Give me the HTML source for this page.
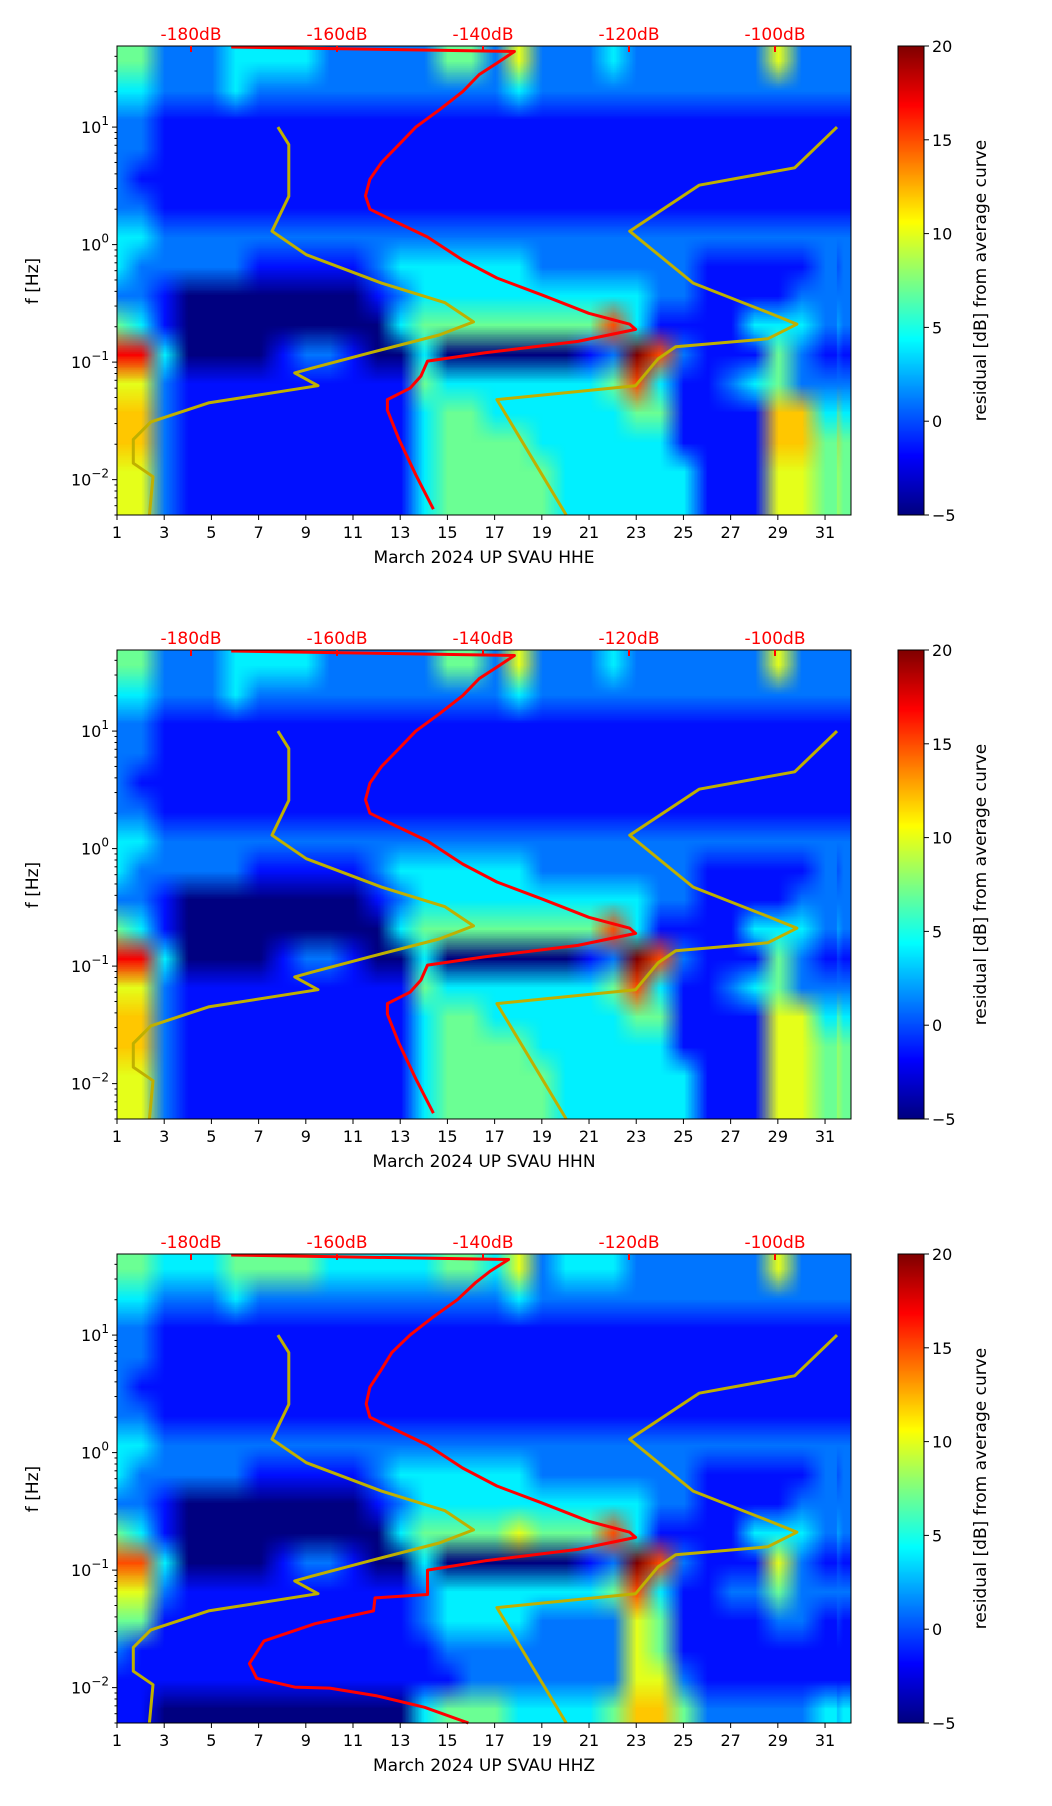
<!DOCTYPE html>
<html><head><meta charset="utf-8">
<style>
body{margin:0;background:#fff;}
#wrap{position:relative;width:1052px;height:1806px;overflow:hidden;background:#fff;font-family:"DejaVu Sans","Liberation Sans",sans-serif;}
canvas{position:absolute;}
svg{position:absolute;left:0;top:0;font-family:"DejaVu Sans","Liberation Sans",sans-serif;}
</style></head>
<body>
<div id="wrap">
<svg id="svg" width="1052" height="1806"></svg>
</div>
<script>
// ---- data ----
const dayTicks = [1,3,5,7,9,11,13,15,17,19,21,23,25,27,29,31];
const dbTicks = [-180,-160,-140,-120,-100];
const cbTicks = [20,15,10,5,0,-5];
const channels = ["HHE","HHN","HHZ"];
// residual level lookup for grid digits (dB)
const levels = [-5,-1.5,1,4,7,10,12,15,17,20];
// residual grid rows (top 50Hz -> bottom 0.005Hz), one char per day 1..31
const gridE = ["4422233332222244252223222222522","3322232222222222232222222222222","2211111111111111111111111111111","2211111111111111111111111111111","2111111111111111111111111111111","2211111111111111111111111111111","3322222222222222222222222222222","3222221111123333332222222111112","2210000000012333333333322111122","4310000000003444444447311113332","8830000122100300000012972111421","5521111111111433333334731123422","6621111111111344333333441111663","6621111111111344443333331111664","5521111111111344444333333111554","5521111111111344444333333111554"];
const gridN = ["4422233332222244252223222222522","3322232222222222232222222222222","2211111111111111111111111111111","2211111111111111111111111111111","2111111111111111111111111111111","2211111111111111111111111111111","3322222222222222222222222222222","3222221111123333332222222111112","2210000000012333333333322111122","4310000000003444444447311113332","8830000122100300000012972111421","5521111111111433333334731123422","6621111111111344333333441111553","6621111111111344443333331111554","5521111111111344444333333111554","5521111111111344444333333111554"];
const gridZ = ["4433344443333344352333222222522","3322232222222222232222222222222","2211111111111111111111111111111","2211111111111111111111111111111","2111111111111111111111111111111","2211111111111111111111111111111","3322222222222222222222222222222","3222221111123333332222222111112","2210000000012333333333322111122","4310000000003444454447311113332","7730000122100300000012972111521","5521111111111233333334731122422","4411111111111233332222541111221","2111111111111122222222541111111","1111111111111112222222552111111","1100000000000344433334664222223"];
const grids = [gridE, gridN, gridZ];
// average PSD curve (Hz, dB)
const redF = [48,44,35,28,20,14,10,7.1,5,3.6,2.6,2.0,1.6,1.16,0.74,0.52,0.37,0.26,0.21,0.19,0.15,0.12,0.102,0.076,0.06,0.048,0.039,0.022,0.011,0.0056];
const redDB = [-174.5,-135.7,-138.1,-140.5,-142.8,-146,-149.2,-151.5,-153.9,-155.5,-156.1,-155.5,-152.3,-147.6,-142.8,-138.1,-131.8,-125.5,-119.9,-119.1,-127,-139.7,-147.6,-148.5,-150,-153.1,-153.1,-151.5,-149.2,-146.8];
const redZF = [48,44,35,28,20,14,10,7.1,5,3.6,2.6,2.0,1.6,1.16,0.74,0.52,0.37,0.26,0.21,0.19,0.15,0.12,0.1,0.062,0.058,0.045,0.035,0.025,0.016,0.012,0.0101,0.0099,0.0085,0.0068,0.005];
const redZDB = [-174.5,-136.5,-139,-141,-143.5,-147,-150,-152.5,-154,-155.5,-156,-155.5,-152.3,-147.6,-142.8,-138.1,-131.8,-125.5,-119.9,-119.1,-127,-139.7,-147.6,-147.6,-154.8,-155,-163,-170,-172,-171,-165.8,-161,-154.5,-148,-142];
// low / high noise model curves (Hz, dB)
const nlnmF = [10,7.1,2.57,1.30,0.82,0.47,0.32,0.22,0.17,0.12,0.089,0.081,0.063,0.045,0.031,0.022,0.0138,0.0106,0.005];
const nlnmDB = [-168.1,-166.6,-166.6,-168.9,-164.2,-153.9,-145.2,-141.3,-146,-155.5,-163.4,-165.8,-162.6,-177.6,-185.5,-187.9,-187.9,-185.2,-185.7];
const nhnmF = [10,4.5,3.2,1.3,0.47,0.265,0.21,0.158,0.135,0.107,0.063,0.048,0.005];
const nhnmDB = [-91.5,-97.3,-110.4,-119.9,-111.2,-101,-97,-101,-113.6,-116,-119.1,-138.1,-128.6];

// ---- layout ----
const L=117, R=851, H=469, tops=[46,650,1254];
const LOGTOP=1.69, LOGBOT=Math.log10(0.005);
const xDay = d => L + (d-1)/31.1*(R-L);
const xDB = db => 191 + (db+180)*7.3;
const yF = (f,top) => top + (LOGTOP-Math.log10(f))/(LOGTOP-LOGBOT)*H;
function jet(v){
  const r=Math.min(Math.max(Math.min(4*v-1.5,-4*v+4.5),0),1);
  const g=Math.min(Math.max(Math.min(4*v-0.5,-4*v+3.5),0),1);
  const b=Math.min(Math.max(Math.min(4*v+0.5,-4*v+2.5),0),1);
  return [Math.round(r*255),Math.round(g*255),Math.round(b*255)];
}
const NS="http://www.w3.org/2000/svg";
const svg=document.getElementById('svg');
function el(tag,attrs,parent){const e=document.createElementNS(NS,tag);for(const k in attrs)e.setAttribute(k,attrs[k]);(parent||svg).appendChild(e);return e;}
const wrap=document.getElementById('wrap');

tops.forEach((top,p)=>{
  const g=grids[p];
  const small=document.createElement('canvas');small.width=31;small.height=g.length;
  const sc=small.getContext('2d');const img=sc.createImageData(31,g.length);
  g.forEach((row,r)=>{for(let c=0;c<31;c++){const db=levels[+row[c]];const col=jet((db+5)/25);const i=(r*31+c)*4;img.data[i]=col[0];img.data[i+1]=col[1];img.data[i+2]=col[2];img.data[i+3]=255;}});
  sc.putImageData(img,0,0);
  const cv=document.createElement('canvas');cv.width=R-L;cv.height=H;
  cv.style.left=L+'px';cv.style.top=top+'px';
  
  
  const ctx=cv.getContext('2d');ctx.imageSmoothingEnabled=true;
  const x0=xDay(0.5)-L, x1=xDay(31.5)-L;
  ctx.drawImage(small,30,0,1,g.length,x1-2,0,(R-L)-x1+2,H);
  ctx.drawImage(small,0,0,31,g.length,x0,0,x1-x0,H);
  wrap.insertBefore(cv,svg);
  const cb=document.createElement('canvas');cb.width=26;cb.height=H;cb.style.left='898px';cb.style.top=top+'px';
  
  
  const cc=cb.getContext('2d');for(let y=0;y<H;y++){const c=jet(1-y/(H-1));cc.fillStyle=`rgb(${c})`;cc.fillRect(0,y,26,1);}
  wrap.insertBefore(cb,svg);

  const grp=el('g',{});
  
  
  const mk=(fs,dbs,color,w,name)=>{const pts=fs.map((f,i)=>xDB(dbs[i]).toFixed(1)+','+yF(f,top).toFixed(1)).join(' ');
    const pl=el('polyline',{points:pts,fill:'none',stroke:color,'stroke-width':w,'stroke-linejoin':'round'},grp);
    
    };
  mk(nlnmF,nlnmDB,'#bfb000',3,'nlnm-curve');
  mk(nhnmF,nhnmDB,'#bfb000',3,'nhnm-curve');
  if(p===2) mk(redZF,redZDB,'#ff0000',3,'average-psd-curve'); else mk(redF,redDB,'#ff0000',3,'average-psd-curve');
  const fr=el('rect',{x:L,y:top,width:R-L,height:H,fill:'none',stroke:'#000','stroke-width':1},grp);
  
  
  el('rect',{x:898,y:top,width:26,height:H,fill:'none',stroke:'#000','stroke-width':1},grp);
  dayTicks.forEach(d=>{const x=xDay(d);el('line',{x1:x,x2:x,y1:top+H,y2:top+H+5,stroke:'#000'},grp);
    const t=el('text',{x:x,y:top+H+23,'text-anchor':'middle','font-size':16},grp);t.textContent=d;
    
    });
  const xl=el('text',{x:(L+R)/2,y:top+H+48,'text-anchor':'middle','font-size':17},grp);xl.textContent='March 2024 UP SVAU  '+channels[p];
  
  
  dbTicks.forEach(db=>{const x=xDB(db);el('line',{x1:x,x2:x,y1:top,y2:top+6,stroke:'#ff0000','stroke-width':2},grp);
    const t=el('text',{x:x,y:top-6,'text-anchor':'middle','font-size':17,fill:'#ff0000'},grp);t.textContent=db+'dB';
    
    });
  for(let e=-3;e<=1;e++){for(let m=1;m<10;m++){const f=m*Math.pow(10,e);const y=yF(f,top);if(y<top-0.5||y>top+H+0.5)continue;
    el('line',{x1:L,x2:L-(m===1?5:2.5),y1:y,y2:y,stroke:'#000'},grp);
    if(m===1){const sup=(e<0?'\u2212':'')+Math.abs(e);
      const t=el('text',{x:L-8,y:y+6,'text-anchor':'end','font-size':16},grp);
      t.appendChild(document.createTextNode('10'));
      const s=el('tspan',{dy:-8,'font-size':12},t);s.textContent=sup;
      
      }}}
  const yl=el('text',{x:0,y:0,'text-anchor':'middle','font-size':17,transform:`translate(38,${top+235}) rotate(-90)`},grp);yl.textContent='f [Hz]';
  
  
  cbTicks.forEach(v=>{const y=top+(20-v)/25*H;el('line',{x1:924,x2:929,y1:y,y2:y,stroke:'#000'},grp);
    const t=el('text',{x:932,y:y+6,'font-size':16},grp);t.textContent=(v<0?'\u2212':'')+Math.abs(v);
    
    });
  const cl=el('text',{x:0,y:0,'text-anchor':'middle','font-size':17,transform:`translate(986,${top+H/2}) rotate(-90)`},grp);cl.textContent='residual [dB] from average curve';
  
  
});
</script>
</body></html>
